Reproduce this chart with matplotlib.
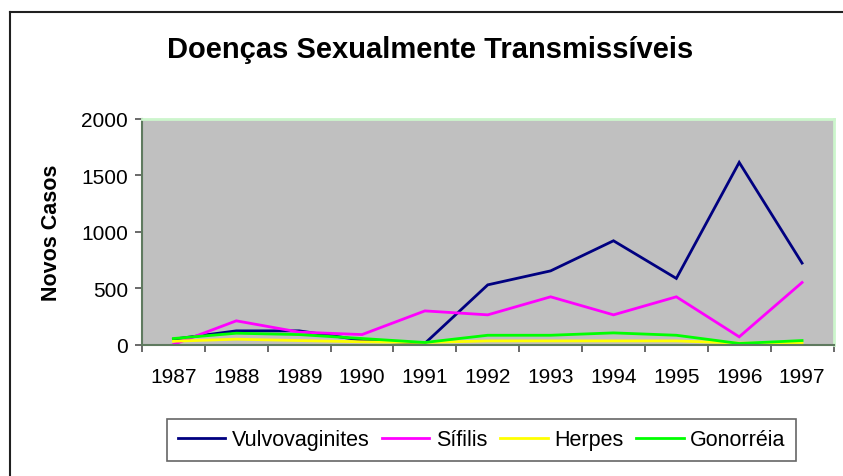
import matplotlib
matplotlib.use("Agg")
import matplotlib.pyplot as plt
from matplotlib.lines import Line2D

years = ["1987", "1988", "1989", "1990", "1991", "1992", "1993", "1994", "1995", "1996", "1997"]
vulvovaginites = [47, 121, 121, 38, 10, 529, 653, 920, 586, 1615, 722]
sifilis = [0, 210, 110, 88, 298, 263, 423, 263, 423, 68, 550]
herpes = [29, 47, 35, 24, 18, 32, 32, 32, 32, 12, 12]
gonorreia = [53, 100, 88, 53, 18, 82, 82, 103, 82, 9, 35]

series = [
    ("Vulvovaginites", vulvovaginites, "#000080"),
    ("Sífilis", sifilis, "#FF00FF"),
    ("Herpes", herpes, "#FFFF00"),
    ("Gonorréia", gonorreia, "#00FF00"),
]

plt.rcParams['font.family'] = ['Liberation Sans', 'DejaVu Sans']

W, H = 843, 477
fig = plt.figure(figsize=(W / 100, H / 100), dpi=100)
fig.patch.set_facecolor("white")

def fx(px):
    return px / W

def fy(py):
    return 1 - py / H

L, R, T, B = 142, 833.5, 120, 345.5
ax = fig.add_axes([fx(L), fy(B), fx(R - L), (B - T) / H])
ax.set_facecolor("#C0C0C0")

x = list(range(len(years)))
for name, vals, col in series:
    ax.plot(x, vals, color=col, lw=2.0, label=name, solid_joinstyle="miter")

ax.set_xlim(-0.5, len(years) - 0.5)
ax.set_ylim(0, 2000)
ax.set_yticks([0, 500, 1000, 1500, 2000])
ax.set_xticks(x)
ax.set_xticklabels(years)
ax.set_xticks([i - 0.5 for i in range(len(years) + 1)], minor=True)
ax.tick_params(axis="x", which="major", length=0, pad=16, labelsize=15)
ax.tick_params(axis="x", which="minor", length=5, width=1.2, color="#505050", direction="out")
ax.tick_params(axis="y", length=5, width=1.2, color="#505050", direction="out", pad=5, labelsize=15)

for s in ["top", "right"]:
    ax.spines[s].set_color("#CCF5CC")
    ax.spines[s].set_linewidth(2)
for s in ["left", "bottom"]:
    ax.spines[s].set_color("#5F7A5F")
    ax.spines[s].set_linewidth(1.5)

ax.set_ylabel("Novos Casos", fontsize=15.5, fontweight="bold", labelpad=14)

fig.text(fx(430), fy(50), "Doenças Sexualmente Transmissíveis", ha="center", va="center",
         fontsize=21, fontweight="bold")

leg = fig.legend(loc="center", bbox_to_anchor=(fx((169 + 794) / 2), fy((419 + 463) / 2)),
                 ncol=4, frameon=True, fancybox=False, fontsize=15.5,
                 handlelength=2.2, handletextpad=0.3, columnspacing=0.6, borderpad=0.5,
                 borderaxespad=0)
leg.get_frame().set_edgecolor("#404040")
leg.get_frame().set_linewidth(1.2)
for h in leg.get_lines():
    h.set_linewidth(2.0)

fig.add_artist(Line2D([fx(10), fx(10)], [fy(13), 0], transform=fig.transFigure, color="#202020", lw=1.5))
fig.add_artist(Line2D([fx(10), 1], [fy(13), fy(13)], transform=fig.transFigure, color="#202020", lw=1.5))

fig.savefig("out.png", dpi=100)
